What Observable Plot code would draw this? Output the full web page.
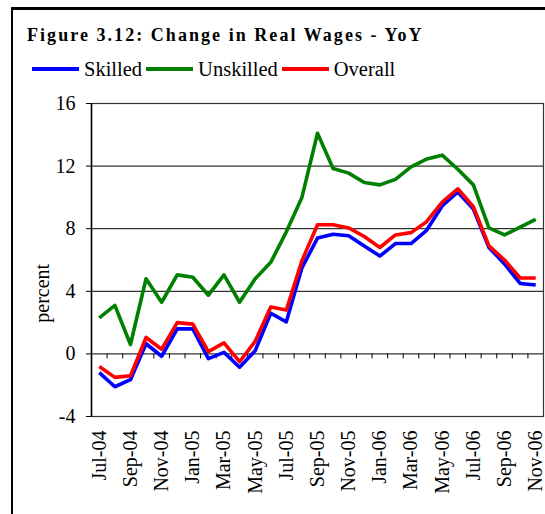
<!DOCTYPE html>
<html><head><meta charset="utf-8">
<script src="https://cdn.jsdelivr.net/npm/d3@7"></script>
<script src="https://cdn.jsdelivr.net/npm/@observablehq/plot@0.6"></script>
<style>
html,body{margin:0;padding:0;background:#fff;}
body{width:545px;height:514px;overflow:hidden;position:relative;font-family:'Liberation Serif';color:#000;}
#frame{position:absolute;left:11px;top:7px;width:600px;height:600px;border:2px solid #000;border-top-width:3px;box-sizing:border-box;}
#title{position:absolute;left:27px;top:26px;font-family:'Liberation Serif';font-weight:bold;font-size:18px;line-height:18px;letter-spacing:2.05px;white-space:nowrap;}
#legend{position:absolute;left:32px;top:59px;display:flex;align-items:center;font-family:'Liberation Serif';font-size:20.5px;line-height:20px;white-space:nowrap;}
#legend .sw{display:inline-block;width:47px;height:3.5px;margin-right:5px;margin-top:0px;}
#legend .lb{margin-right:4px;}
#chart{position:absolute;left:0;top:85px;}
</style>
</head><body>
<div id="frame"></div>
<div id="title">Figure 3.12: Change in Real Wages - YoY</div>
<div id="legend"></div>
<div id="chart"></div>
<script>
const months = ["Jul-04","Aug-04","Sep-04","Oct-04","Nov-04","Dec-04","Jan-05","Feb-05","Mar-05","Apr-05","May-05","Jun-05","Jul-05","Aug-05","Sep-05","Oct-05","Nov-05","Dec-05","Jan-06","Feb-06","Mar-06","Apr-06","May-06","Jun-06","Jul-06","Aug-06","Sep-06","Oct-06","Nov-06"];
const skilled = [-1.2,-2.1,-1.65,0.65,-0.15,1.6,1.6,-0.3,0.1,-0.85,0.2,2.6,2.05,5.5,7.4,7.65,7.55,6.9,6.25,7.05,7.05,7.9,9.45,10.35,9.25,6.8,5.75,4.5,4.4];
const unskilled = [2.3,3.1,0.6,4.8,3.3,5.05,4.9,3.75,5.05,3.3,4.8,5.85,7.8,10.0,14.1,11.85,11.55,10.95,10.8,11.15,11.95,12.45,12.7,11.8,10.8,8.05,7.6,8.1,8.6];
const overall = [-0.8,-1.5,-1.4,1.05,0.3,2.0,1.9,0.15,0.7,-0.5,0.8,3.0,2.8,5.95,8.25,8.25,8.05,7.5,6.8,7.6,7.75,8.45,9.7,10.55,9.4,6.9,6.0,4.85,4.85];
const seriesNames = ["Skilled","Unskilled","Overall"];
const seriesColors = ["#0000ff","#008000","#ff0000"];
const tickLabels = ["Jul-04","Sep-04","Nov-04","Jan-05","Mar-05","May-05","Jul-05","Sep-05","Nov-05","Jan-06","Mar-06","May-06","Jul-06","Sep-06","Nov-06"];
const yTicks = [-4,0,4,8,12,16];
const gridValues = [4,8,12];
const yLabel = "percent";

const seriesValues = [skilled, unskilled, overall];
const rows = (vals) => months.map((m, i) => ({pos: i + 0.5, month: m, value: vals[i]}));

// legend
const legend = document.getElementById("legend");
seriesNames.forEach((n, k) => {
  const sw = document.createElement("span"); sw.className = "sw"; sw.style.background = seriesColors[k];
  const lb = document.createElement("span"); lb.className = "lb"; lb.textContent = n;
  legend.append(sw, lb);
});

const chart = Plot.plot({
  width: 545,
  height: 429,
  marginTop: 18,
  marginBottom: 98,
  marginLeft: 91,
  marginRight: 2,
  style: {fontFamily: "Liberation Serif", fontSize: "20px", color: "#000", background: "transparent", overflow: "visible"},
  x: {domain: [0, months.length]},
  y: {domain: [-4, 16]},
  marks: [
    Plot.ruleY(gridValues, {stroke: "#000", strokeWidth: 1}),
    Plot.ruleY([0], {stroke: "#000", strokeWidth: 1}),
    Plot.ruleX(d3.range(1, months.length), {y1: 0, y2: -0.32, stroke: "#000"}),
    Plot.frame({stroke: "#333", strokeWidth: 1.2}),
    Plot.ruleX([0], {stroke: "#000", strokeWidth: 1.5}),
    ...seriesValues.map((vals, k) => Plot.line(rows(vals), {x: "pos", y: "value", stroke: seriesColors[k], strokeWidth: 3.6, strokeLinejoin: "round", strokeLinecap: "butt"})),
    Plot.axisY({ticks: yTicks, tickFormat: d => String(d), tickSize: 5, tickPadding: 11, fontSize: 20, label: null, stroke: "#000"}),
    Plot.axisX({ticks: tickLabels.map(t => months.indexOf(t) + 0.5), tickFormat: v => months[Math.floor(v)], tickSize: 0, tickPadding: 14, tickRotate: -90, fontSize: 20, label: null}),
    Plot.text([{label: yLabel, at: gridValues[0]}], {y: "at", frameAnchor: "left", textAnchor: "middle", rotate: -90, dx: -49, dy: 2, fontSize: 20, text: "label"})
  ]
});
document.getElementById("chart").append(chart);
</script>
</body></html>
